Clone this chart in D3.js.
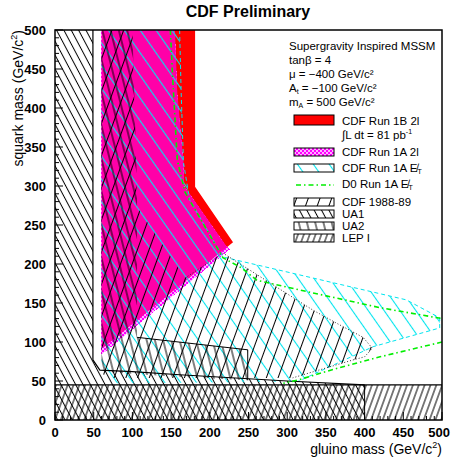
<!DOCTYPE html>
<html><head><meta charset="utf-8">
<script src="https://cdn.jsdelivr.net/npm/d3@7"></script>
<style>body{margin:0;background:#fff}svg{display:block}</style>
</head><body>
<svg id="c" width="451" height="462"></svg>
<script>
// ---- data (gluino mass, squark mass) in GeV/c^2 ----
const xTicks = [0,50,100,150,200,250,300,350,400,450,500];
const yTicks = [0,50,100,150,200,250,300,350,400,450,500];
const run1B2l = [[60,500],[181,500],[181,299],[230,228],[64,94],[60,94]];
const run1A2l = [[60,500],[155,500],[158,420],[166,330],[167,300],[222,222],[226,219],[62,85],[60,85]];
const run1AEt = [[60,500],[161,500],[163,420],[166,330],[174,282],[217,209],[454,154],[497,131],[497,118],[411,94],[313,49],[80,47],[60,62]];
const run1AEtEdge = [[161,500],[163,420],[166,330],[174,282],[217,209],[454,154],[497,131],[497,118],[411,94],[313,49]];
const d0Upper = [[149,500],[152,440],[158,333],[168,292],[217,208],[241,195],[261,179],[333,163],[420,144],[500,130]];
const d0Lower = [[500,100],[420,81],[360,65],[313,51],[295,47]];
const cdf8889 = [[60,500],[100,500],[106,273],[168,182],[217,214],[333,141],[364,124],[398,106],[410,92],[400,81],[385,77],[307,54],[70,54],[60,60]];
const cdf8889Edge = [[168,182],[217,214],[333,141],[364,124],[398,106],[410,92],[400,81],[385,77],[307,54]];
const ua1 = [[0,0],[0,500],[49,500],[49,77],[58,64],[100,62],[161,58],[300,50],[400,45],[400,0]];
const ua1Edge = [[49,500],[49,77],[58,64],[100,62],[161,58],[300,50],[400,45]];
const ua2 = [[60,500],[100,500],[106,300],[106,106],[249,90],[249,51],[161,55],[60,62]];
const ua2Edge = [[106,106],[249,90],[249,51]];
const lep1 = [[0,0],[0,45],[500,45],[500,0]];
const modelLines = ["Supergravity Inspired MSSM","tanβ = 4","μ = −400 GeV/c²","A_t = −100 GeV/c²","m_A = 500 GeV/c²"];

const svg = d3.select("#c");
const x = d3.scaleLinear().domain([0,500]).range([55,442]);
const y = d3.scaleLinear().domain([0,500]).range([420,30]);
const line = d3.line().x(d=>x(d[0])).y(d=>y(d[1]));
const poly = pts => line(pts) + "Z";

const defs = svg.append("defs");
function hatch(id, spacing, angle, color, w){
  const p = defs.append("pattern").attr("id",id).attr("patternUnits","userSpaceOnUse")
    .attr("width",spacing).attr("height",spacing).attr("patternTransform",`rotate(${angle})`);
  p.append("line").attr("x1",spacing/2).attr("x2",spacing/2).attr("y1",-1).attr("y2",spacing+1)
    .attr("stroke",color).attr("stroke-width",w);
}
hatch("pCdf88", 11, 20, "#000", 1);
hatch("pUa1", 6.5, -28, "#000", 1);
hatch("pUa2", 8, -14, "#000", 1);
hatch("pLep", 5.5, 20, "#000", 1);
hatch("pCyan", 13, -35, "#00e5ee", 1.1);
function checker(id, c1, c2){
  const p = defs.append("pattern").attr("id",id).attr("patternUnits","userSpaceOnUse").attr("width",4).attr("height",4);
  p.append("rect").attr("x",0).attr("y",0).attr("width",4).attr("height",4).attr("fill",c2);
  p.append("rect").attr("x",0).attr("y",0).attr("width",2).attr("height",2).attr("fill",c1);
  p.append("rect").attr("x",2).attr("y",2).attr("width",2).attr("height",2).attr("fill",c1);
}
checker("pChkW","#ff00ff","#ffb0ff");
defs.append("clipPath").attr("id","clip").append("rect")
  .attr("x",x(0)).attr("y",y(500)).attr("width",x(500)-x(0)).attr("height",y(0)-y(500));
defs.append("clipPath").attr("id","clipRed").append("path").attr("d",poly(run1B2l));

const g = svg.append("g").attr("clip-path","url(#clip)");
g.append("path").attr("d",poly(ua1)).attr("fill","url(#pUa1)");
g.append("path").attr("d",poly(lep1)).attr("fill","url(#pLep)");
g.append("path").attr("d",poly(run1B2l)).attr("fill","#ff0000");
g.append("path").attr("d",poly(run1A2l)).attr("fill","url(#pChkW)").attr("shape-rendering","crispEdges");
g.append("g").attr("clip-path","url(#clipRed)").append("path").attr("d",poly(run1A2l))
  .attr("fill","#ff00a8");
g.append("path").attr("d",poly(run1AEt)).attr("fill","url(#pCyan)");
g.append("path").attr("d",line(run1AEtEdge)).attr("fill","none").attr("stroke","#00e5ee").attr("stroke-width",1).attr("stroke-dasharray","4,3");
g.append("path").attr("d",poly(cdf8889)).attr("fill","url(#pCdf88)");
g.append("path").attr("d",line(cdf8889Edge)).attr("fill","none").attr("stroke","#333").attr("stroke-width",1).attr("stroke-dasharray","1,2");
g.append("path").attr("d",poly(ua2)).attr("fill","url(#pUa2)");
g.append("path").attr("d",line(ua2Edge)).attr("fill","none").attr("stroke","#000").attr("stroke-width",1);
g.append("path").attr("d",line(ua1Edge)).attr("fill","none").attr("stroke","#000").attr("stroke-width",1.2);
[d0Upper,d0Lower].forEach(d=>g.append("path").attr("d",line(d)).attr("fill","none")
  .attr("stroke","#00ee00").attr("stroke-width",1.6).attr("stroke-dasharray","5,3,1.5,3"));
g.append("path").attr("d",line([[0,45],[500,45]])).attr("stroke","#000").attr("stroke-width",1.3);
g.append("path").attr("d",line([[400,0],[400,45]])).attr("stroke","#000").attr("stroke-width",1);

// frame & ticks
svg.append("rect").attr("x",x(0)).attr("y",y(500)).attr("width",x(500)-x(0)).attr("height",y(0)-y(500))
  .attr("fill","none").attr("stroke","#000").attr("stroke-width",1.5);
const minor = d3.range(0,501,10);
svg.selectAll(".yt").data(minor).join("line").attr("x1",x(0)).attr("x2",d=>x(0)+(d%50===0?8:4))
  .attr("y1",d=>y(d)).attr("y2",d=>y(d)).attr("stroke","#000");
svg.selectAll(".xt").data(minor).join("line").attr("y1",y(0)).attr("y2",d=>y(0)-(d%50===0?8:4))
  .attr("x1",d=>x(d)).attr("x2",d=>x(d)).attr("stroke","#000");
const tf = "'Liberation Sans', Arial, sans-serif";
svg.selectAll(".yl").data(yTicks).join("text").attr("x",46).attr("y",d=>y(d)+4.5)
  .attr("text-anchor","end").attr("font-family",tf).attr("font-weight","bold").attr("font-size",13).text(d=>d);
svg.selectAll(".xl").data(xTicks).join("text").attr("x",d=>d===500?450:x(d)).attr("y",437)
  .attr("text-anchor",d=>d===500?"end":"middle").attr("font-family",tf).attr("font-weight","bold").attr("font-size",13).text(d=>d);

// titles
svg.append("text").attr("x",248).attr("y",17).attr("text-anchor","middle").attr("font-family",tf)
  .attr("font-weight","bold").attr("font-size",16).text("CDF Preliminary");
const xt = svg.append("text").attr("x",442).attr("y",454).attr("text-anchor","end").attr("font-family",tf).attr("font-size",14);
xt.append("tspan").text("gluino mass (GeV/c");
xt.append("tspan").attr("font-size",9).attr("dy",-6).text("2");
xt.append("tspan").attr("dy",6).text(")");
const yt = svg.append("text").attr("transform","translate(23,30) rotate(-90)").attr("text-anchor","end").attr("font-family",tf).attr("font-size",14);
yt.append("tspan").text("squark mass (GeV/c");
yt.append("tspan").attr("font-size",9).attr("dy",-6).text("2");
yt.append("tspan").attr("dy",6).text(")");

// model text
const lf = 11.5;
function rich(t, xx, yy){
  const el = svg.append("text").attr("x",xx).attr("y",yy).attr("font-family",tf).attr("font-size",lf);
  const m = t.match(/^(\w)_(\w)(.*)$/);
  if(m){
    el.append("tspan").text(m[1]);
    el.append("tspan").attr("font-size",7).attr("dy",2).text(m[2]);
    el.append("tspan").attr("dy",-2).text(m[3]);
  } else el.text(t);
  return el;
}
modelLines.forEach((t,i)=>rich(t,289,50+i*14));

// legend
const lx0 = 294, lx1 = 334, tx = 342;
const legendRows = [
  {label:"CDF Run 1B 2l", y:125, fill:"#ff0000", h:10},
  {label:"CDF Run 1A 2l", y:156, fill:"url(#pChkW)", h:8},
  {label:"CDF Run 1A Et", y:172, fill:"url(#pCyan)", h:8},
  {label:"D0 Run 1A Et", y:188, dash:true},
  {label:"CDF 1988-89", y:206, fill:"url(#pCdf88)", h:8},
  {label:"UA1", y:218, fill:"url(#pUa1)", h:8},
  {label:"UA2", y:230, fill:"url(#pUa2)", h:8},
  {label:"LEP I", y:242, fill:"url(#pLep)", h:8}
];
legendRows.forEach(r=>{
  if(r.dash){
    svg.append("line").attr("x1",lx0+2).attr("x2",lx1).attr("y1",r.y-3).attr("y2",r.y-3)
      .attr("stroke","#00ee00").attr("stroke-width",1.6).attr("stroke-dasharray","5,3,1.5,3");
  } else {
    svg.append("rect").attr("x",lx0).attr("y",r.y-r.h).attr("width",lx1-lx0)
      .attr("height",r.h).attr("fill",r.fill).attr("stroke","#000").attr("stroke-width",1);
  }
  const t = svg.append("text").attr("x",tx).attr("y",r.y).attr("font-family",tf).attr("font-size",lf);
  if(r.label.endsWith("Et")){
    t.append("tspan").text(r.label.slice(0,-2)+"E\u0338");
    t.append("tspan").attr("font-size",7).attr("dy",2).text("T");
  } else t.text(r.label);
});
const il = svg.append("text").attr("x",tx).attr("y",139).attr("font-family",tf).attr("font-size",lf);
il.append("tspan").text("∫L dt = 81 pb");
il.append("tspan").attr("font-size",7).attr("dy",-5).text("-1");
</script>
</body></html>
